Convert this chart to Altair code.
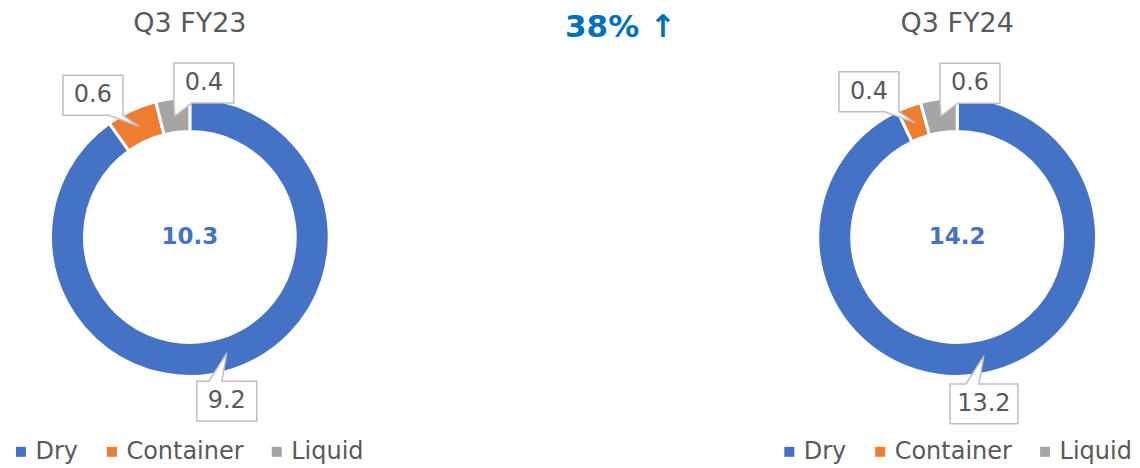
import altair as alt
import pandas as pd

# ---- data ----
categories = ["Dry", "Container", "Liquid"]
periods = ["Q3 FY23", "Q3 FY24"]
values_fy23 = [9.2, 0.6, 0.4]
values_fy24 = [13.2, 0.4, 0.6]
totals = [10.3, 14.2]
headline = ["38% \u2191"]

# ---- style ----
COLORS = ["#4472C4", "#ED7D31", "#A5A5A5"]
FONT = "DejaVu Sans"
TEXT_GRAY = "#595959"
BOX_STROKE = "#BFBFBF"
HEAD_BLUE = "#0070C0"

H = 452            # plot height of every panel
CY = 229           # donut centre measured from panel top
OUTER, INNER, SEP = 138, 107, 3
TIP_R = 122        # radius where callout pointers touch the ring
BOX_H = 40
# box centre relative to pointer tip (x right, y up)
CALLOUT_OFF = {"Dry": (0, -48), "Container": (-46, 31), "Liquid": (29, 33)}


def lookup_expr(mapping, idx):
    items = list(mapping.items())
    expr = str(items[-1][1][idx])
    for k, v in reversed(items[:-1]):
        expr = f"(datum.category == '{k}' ? {v[idx]} : {expr})"
    return expr


def callout_path(cat, w):
    hw, hh = w / 2, BOX_H / 2
    ox, oy = CALLOUT_OFF[cat]
    tx, ty = -ox, oy  # tip relative to box centre in svg coords (y down)
    if cat == "Dry":
        pts = [(-hw, -hh), (-18, -hh), (tx, ty), (-5, -hh), (hw, -hh), (hw, hh), (-hw, hh)]
    elif cat == "Container":
        pts = [(-hw, -hh), (hw, -hh), (hw, hh), (tx, ty), (hw - 14, hh), (-hw, hh)]
    else:
        pts = [(-hw, -hh), (hw, -hh), (hw, hh), (-hw + 18, hh), (tx, ty), (-hw, hh)]
    return "M" + " L".join(f"{x:g},{y:g}" for x, y in pts) + " Z"


def donut_panel(period, values, total, width, left, legend_x):
    df = pd.DataFrame({"category": categories, "value": values,
                       "idx": list(range(len(categories)))})
    xs = alt.Scale(domain=[-left, width - left], nice=False, zero=False)
    ys = alt.Scale(domain=[-(H - CY), CY], nice=False, zero=False)
    X0 = alt.X(datum=0, scale=xs, axis=None)
    Y0 = alt.Y(datum=0, scale=ys, axis=None)

    arcs = alt.Chart(df).mark_arc(
        radius=OUTER + SEP / 2, radius2=INNER - SEP / 2,
        stroke="white", strokeWidth=SEP
    ).encode(
        theta=alt.Theta("value:Q", stack=True),
        order=alt.Order("idx:Q"),
        color=alt.Color(
            "category:N",
            scale=alt.Scale(domain=categories, range=COLORS),
            legend=alt.Legend(
                orient="none", legendX=legend_x, legendY=432,
                direction="horizontal", title=None, symbolType="square",
                symbolSize=100, symbolStrokeWidth=0, labelFont=FONT,
                labelFontSize=24, labelColor=TEXT_GRAY, labelOffset=2.5,
                columnPadding=21, labelLimit=0, padding=0,
            ),
        ),
        x=X0, y=Y0,
    )

    base = alt.Chart(df).transform_joinaggregate(
        total="sum(value)"
    ).transform_window(
        cum="sum(value)", sort=[alt.SortField("idx")], frame=[None, 0]
    ).transform_calculate(
        mid="2*PI*(datum.cum - datum.value/2)/datum.total",
        box="'callout-' + datum.category",
    ).transform_calculate(
        bx=f"{TIP_R}*sin(datum.mid) + {lookup_expr(CALLOUT_OFF, 0)}",
        by=f"{TIP_R}*cos(datum.mid) + {lookup_expr(CALLOUT_OFF, 1)}",
    )

    box_domain = [f"callout-{c}" for c in categories]
    paths = [callout_path(c, 60 if len(f"{v:.1f}") <= 3 else 68)
             for c, v in zip(categories, values)]

    boxes = base.mark_point(
        filled=True, fill="white", stroke=BOX_STROKE, strokeWidth=1.5,
        size=4, opacity=1
    ).encode(
        x=alt.X("bx:Q", scale=xs, axis=None),
        y=alt.Y("by:Q", scale=ys, axis=None),
        shape=alt.Shape("box:N",
                        scale=alt.Scale(domain=box_domain, range=paths),
                        legend=None),
    )

    labels = base.mark_text(
        font=FONT, fontSize=24, color=TEXT_GRAY, baseline="middle", align="center"
    ).encode(
        x=alt.X("bx:Q", scale=xs, axis=None),
        y=alt.Y("by:Q", scale=ys, axis=None),
        text=alt.Text("value:Q", format=".1f"),
    )

    centre = alt.Chart(pd.DataFrame({"total": [total]})).mark_text(
        font=FONT, fontSize=23, fontWeight="bold", color=COLORS[0],
        baseline="middle", align="center"
    ).encode(x=X0, y=Y0, text=alt.Text("total:Q", format=".1f"))

    title = alt.Chart(pd.DataFrame({"period": [period]})).mark_text(
        font=FONT, fontSize=27, color=TEXT_GRAY, baseline="alphabetic",
        align="center"
    ).encode(x=X0, y=alt.value(24), text="period:N")

    return alt.layer(arcs, boxes, labels, centre, title).properties(
        width=width, height=H
    )


left = donut_panel(periods[0], values_fy23, totals[0], 364, 182, 1)
right = donut_panel(periods[1], values_fy24, totals[1], 356, 182, 2)

middle = alt.Chart(pd.DataFrame({"headline": headline})).mark_text(
    font=FONT, fontSize=31, fontWeight="bold", color=HEAD_BLUE,
    align="center", baseline="alphabetic"
).encode(
    x=alt.value(249), y=alt.value(29), text="headline:N"
).properties(width=404, height=H)

chart = alt.hconcat(left, middle, right, spacing=0, bounds="flush").resolve_scale(
    color="independent", x="independent", y="independent", shape="independent"
).resolve_legend(
    color="independent", shape="independent"
).properties(
    padding=0, background="white"
).configure_view(stroke=None)

chart.save("out.html", embed_options={"renderer": "svg", "actions": False})
